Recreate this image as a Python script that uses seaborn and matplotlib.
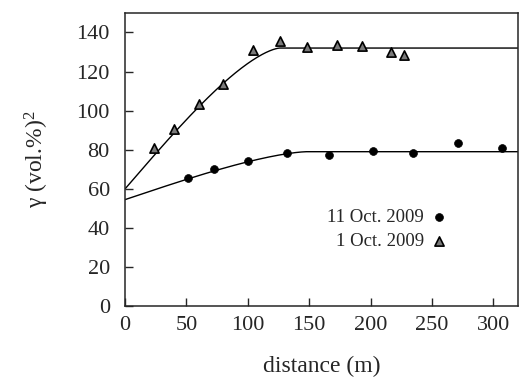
import numpy as np
import pandas as pd
import seaborn as sns
import matplotlib.pyplot as plt

dist_oct1 = [23.8, 39.8, 60.2, 79.7, 104.3, 126.0, 148.0, 172.4, 193.0, 216.5, 226.8]
gamma_oct1 = [81.0, 90.6, 103.2, 113.7, 131.0, 135.6, 132.4, 133.5, 133.2, 129.8, 128.4]

dist_oct11 = [51.5, 72.6, 100.5, 132.2, 166.0, 202.2, 234.4, 271.5, 306.8]
gamma_oct11 = [65.5, 69.9, 74.3, 78.4, 77.4, 79.1, 78.4, 83.3, 80.8]

# fitted circular models: nugget, sill, range
model_oct1 = (60.0, 132.0, 126.0)
model_oct11 = (54.5, 79.0, 148.0)

xticks = [0, 50, 100, 150, 200, 250, 300]
yticks = [0, 20, 40, 60, 80, 100, 120, 140]


def circular(h, nugget, sill, rng):
    r = np.clip(h / rng, 0, 1)
    f = 1 - 2 / np.pi * np.arccos(r) + 2 * r / np.pi * np.sqrt(1 - r ** 2)
    return nugget + (sill - nugget) * f


sns.set_style('ticks')
plt.rcParams['font.family'] = ['Liberation Serif', 'DejaVu Serif']
plt.rcParams['mathtext.fontset'] = 'custom'
plt.rcParams['mathtext.rm'] = 'Liberation Serif'
plt.rcParams['mathtext.it'] = 'Liberation Serif:italic'

fig = plt.figure(figsize=(5.19, 3.78), dpi=100)
ax = fig.add_axes([0.241, 0.19, 0.757, 0.776])

h = np.linspace(0, 320, 400)
curves = pd.DataFrame({'h': np.concatenate([h, h]),
                       'g': np.concatenate([circular(h, *model_oct11), circular(h, *model_oct1)]),
                       'set': ['11'] * len(h) + ['1'] * len(h)})
sns.lineplot(data=curves, x='h', y='g', units='set', estimator=None,
             color='black', lw=1.0, ax=ax, legend=False)

sns.scatterplot(x=dist_oct11, y=gamma_oct11, marker='o', s=32, color='black',
                edgecolor='black', linewidth=0.5, ax=ax, label='11 Oct. 2009', zorder=3)
sns.scatterplot(x=dist_oct1, y=gamma_oct1, marker='^', s=44, color='#7a7a7a',
                edgecolor='black', linewidth=1.2, ax=ax, label='1 Oct. 2009', zorder=3)

ax.set_xlim(0, 320)
ax.set_ylim(0, 150)
ax.set_xticks(xticks)
ax.set_yticks(yticks)
ax.tick_params(direction='in', length=6, width=1, labelsize=16)
ax.tick_params(axis='x', pad=7)
ax.tick_params(axis='y', pad=11)
for s in ax.spines.values():
    s.set_linewidth(1.1)

ax.set_xlabel('distance (m)', fontsize=17, labelpad=15)
ax.set_ylabel('γ (vol.%)$^2$', fontsize=17, labelpad=18)

leg = ax.legend(loc='upper right', bbox_to_anchor=(0.818, 0.333), frameon=False,
                markerfirst=False, fontsize=13.5, handletextpad=0.4, handlelength=0.8,
                labelspacing=0.4, borderaxespad=0, borderpad=0)

fig.savefig('out.png', dpi=100)
